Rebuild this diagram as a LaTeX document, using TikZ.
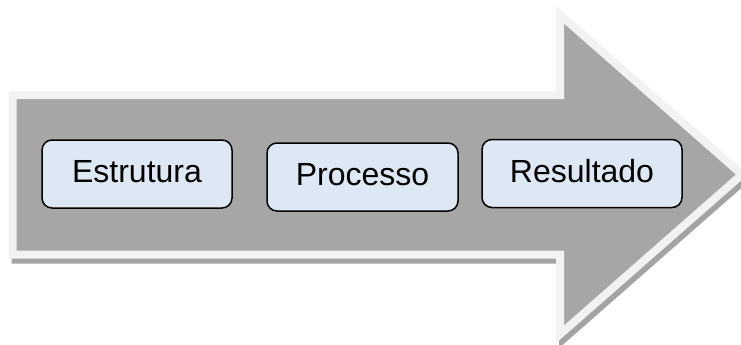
\documentclass[tikz,border=0pt]{standalone}
\usepackage{fontspec}
\setmainfont{Liberation Sans}
\definecolor{arrowgray}{HTML}{A6A6A6}
\definecolor{rimgray}{HTML}{F2F2F2}
\definecolor{shadowgray}{HTML}{A3A3A3}
\definecolor{boxblue}{HTML}{DEE8F5}
\begin{document}
\begin{tikzpicture}[x=1pt,y=-1pt,
  stagebox/.style={draw=black, line width=1.5pt, fill=boxblue, rounded corners=10pt,
    minimum height=68pt, inner sep=0pt, text height=23pt, text depth=6pt,
    font=\fontsize{32}{38}\selectfont},
  bigarrow/.style={line width=8pt, line join=miter}]
\path[use as bounding box] (0,0) rectangle (741,345);
\clip (0,0) rectangle (741,345);
\draw[bigarrow, draw=shadowgray, fill=shadowgray, shift={(3,5)}]
  (12.5,95) -- (560,95) -- (560,14.7) -- (742,174.5) -- (560,334.3) -- (560,254.5) -- (12.5,254.5) -- cycle;
\draw[bigarrow, draw=rimgray, fill=arrowgray]
  (12.5,95) -- (560,95) -- (560,14.7) -- (742,174.5) -- (560,334.3) -- (560,254.5) -- (12.5,254.5) -- cycle;
\node[stagebox, minimum width=190pt] (estrutura) at (137,174) {Estrutura};
\node[stagebox, minimum width=191pt] (processo) at (362.5,177) {Processo};
\node[stagebox, minimum width=200pt] (resultado) at (582,173.5) {Resultado};
\end{tikzpicture}
\end{document}
